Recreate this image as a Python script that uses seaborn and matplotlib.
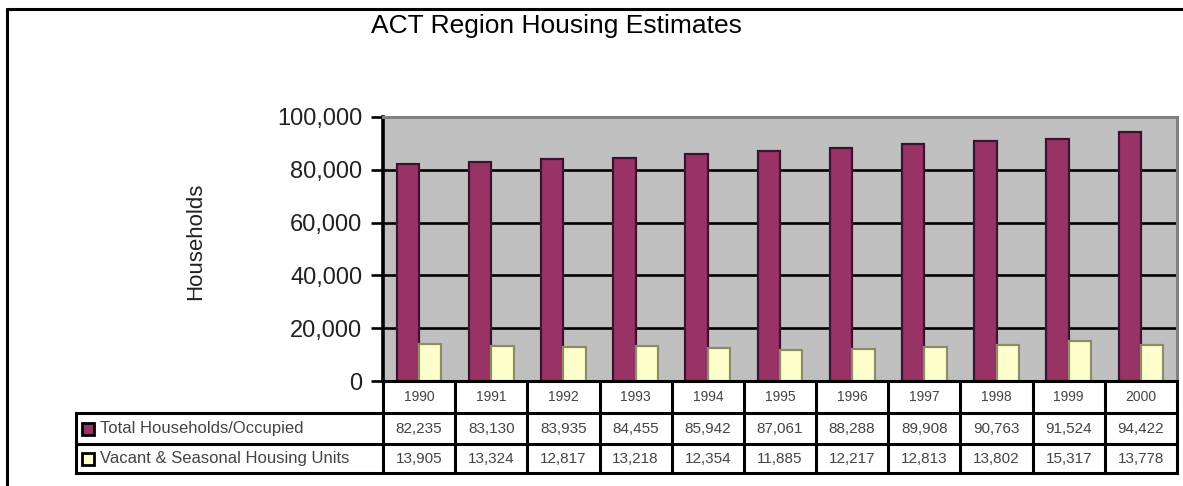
import pandas as pd
import seaborn as sns
import matplotlib.pyplot as plt
from matplotlib.lines import Line2D
from matplotlib.ticker import FuncFormatter
from matplotlib.transforms import blended_transform_factory

# Data
years = ['1990', '1991', '1992', '1993', '1994', '1995', '1996', '1997', '1998', '1999', '2000']
occupied = [82235, 83130, 83935, 84455, 85942, 87061, 88288, 89908, 90763, 91524, 94422]
vacant = [13905, 13324, 12817, 13218, 12354, 11885, 12217, 12813, 13802, 15317, 13778]
series_names = ['Total Households/Occupied', 'Vacant & Seasonal Housing Units']
series_colors = ['#993366', '#FFFFCC']
series_edges = ['#3a1430', '#8c8c66']

df = pd.DataFrame({
    'year': years * 2,
    'value': occupied + vacant,
    'series': [series_names[0]] * len(years) + [series_names[1]] * len(years),
})

sns.set_theme(style='white')
plt.rcParams['font.family'] = ['Liberation Sans', 'DejaVu Sans']

W, H = 1183, 486
fig = plt.figure(figsize=(W / 100, H / 100), dpi=100)
ax = fig.add_axes([383 / W, 1 - 381 / H, (1177 - 383) / W, (381 - 117) / H])

sns.barplot(data=df, x='year', y='value', hue='series', palette=series_colors,
            width=0.62, ax=ax, legend=False, saturation=1)
for cont, ec in zip(ax.containers, series_edges):
    for bar in cont:
        bar.set_edgecolor(ec)
        bar.set_linewidth(1.6)

ax.set_facecolor('#C0C0C0')
ax.set_ylim(0, 100000)
ax.set_xlim(-0.5, len(years) - 0.5)
ax.set_yticks(range(0, 100001, 20000))
ax.yaxis.set_major_formatter(FuncFormatter(lambda v, p: f'{int(v):,}'))
ax.set_axisbelow(True)
ax.yaxis.grid(True, color='black', lw=1.9)
ax.tick_params(axis='y', left=True, length=9, width=1.9, color='black',
               labelsize=17, labelcolor='#222222', pad=6)
ax.tick_params(axis='x', bottom=False, labelbottom=False)
ax.set_xlabel('')
ax.set_ylabel('')
for side in ['top', 'right']:
    ax.spines[side].set_color('#808080')
    ax.spines[side].set_linewidth(2.2)
ax.spines['left'].set_color('black')
ax.spines['left'].set_linewidth(2.6)
ax.spines['bottom'].set_color('black')
ax.spines['bottom'].set_linewidth(2.2)

fig.text(556 / W, 1 - 26 / H, 'ACT Region Housing Estimates', ha='center', va='center',
         fontsize=19, color='black')
fig.text(196 / W, 1 - 241 / H, 'Households', rotation=90, ha='center', va='center',
         fontsize=16, color='#222222')

# data table under the plot, aligned with the category axis
tr = blended_transform_factory(ax.transData, ax.transAxes)
n = len(years)
plot_h = 381 - 117
row_y = [0, -32 / plot_h, -63 / plot_h, -92 / plot_h]
left_lab = -0.5 - (383 - 76) / ((1177 - 383) / n)
lw = 2.2
line_kw = dict(color='black', lw=lw, transform=tr, clip_on=False, solid_capstyle='projecting')

for i in range(n + 1):
    ax.add_line(Line2D([i - 0.5, i - 0.5], [row_y[0], row_y[3]], **line_kw))
for y in row_y[1:]:
    ax.add_line(Line2D([left_lab, n - 0.5], [y, y], **line_kw))
ax.add_line(Line2D([left_lab, left_lab], [row_y[1], row_y[3]], **line_kw))

for i, yr in enumerate(years):
    ax.text(i, (row_y[0] + row_y[1]) / 2, yr, transform=tr, ha='center', va='center',
            fontsize=10, color='#444444')
for r, vals in enumerate([occupied, vacant]):
    yc = (row_y[r + 1] + row_y[r + 2]) / 2
    for i, v in enumerate(vals):
        ax.text(i, yc, f'{v:,}', transform=tr, ha='center', va='center',
                fontsize=11, color='#444444')
    ax.plot([left_lab + 0.17], [yc], marker='s', markersize=8, markerfacecolor=series_colors[r],
            markeredgecolor='black', markeredgewidth=2, transform=tr, clip_on=False)
    ax.text(left_lab + 0.33, yc, series_names[r], transform=tr, ha='left', va='center',
            fontsize=12, color='#444444')

# outer chart frame (left and top edges visible)
fig.add_artist(Line2D([7 / W, 7 / W], [0, 1 - 9 / H], color='black', lw=2.2, transform=fig.transFigure))
fig.add_artist(Line2D([7 / W, 1], [1 - 9 / H, 1 - 9 / H], color='black', lw=2.2, transform=fig.transFigure))

fig.savefig('out.png', dpi=100)
